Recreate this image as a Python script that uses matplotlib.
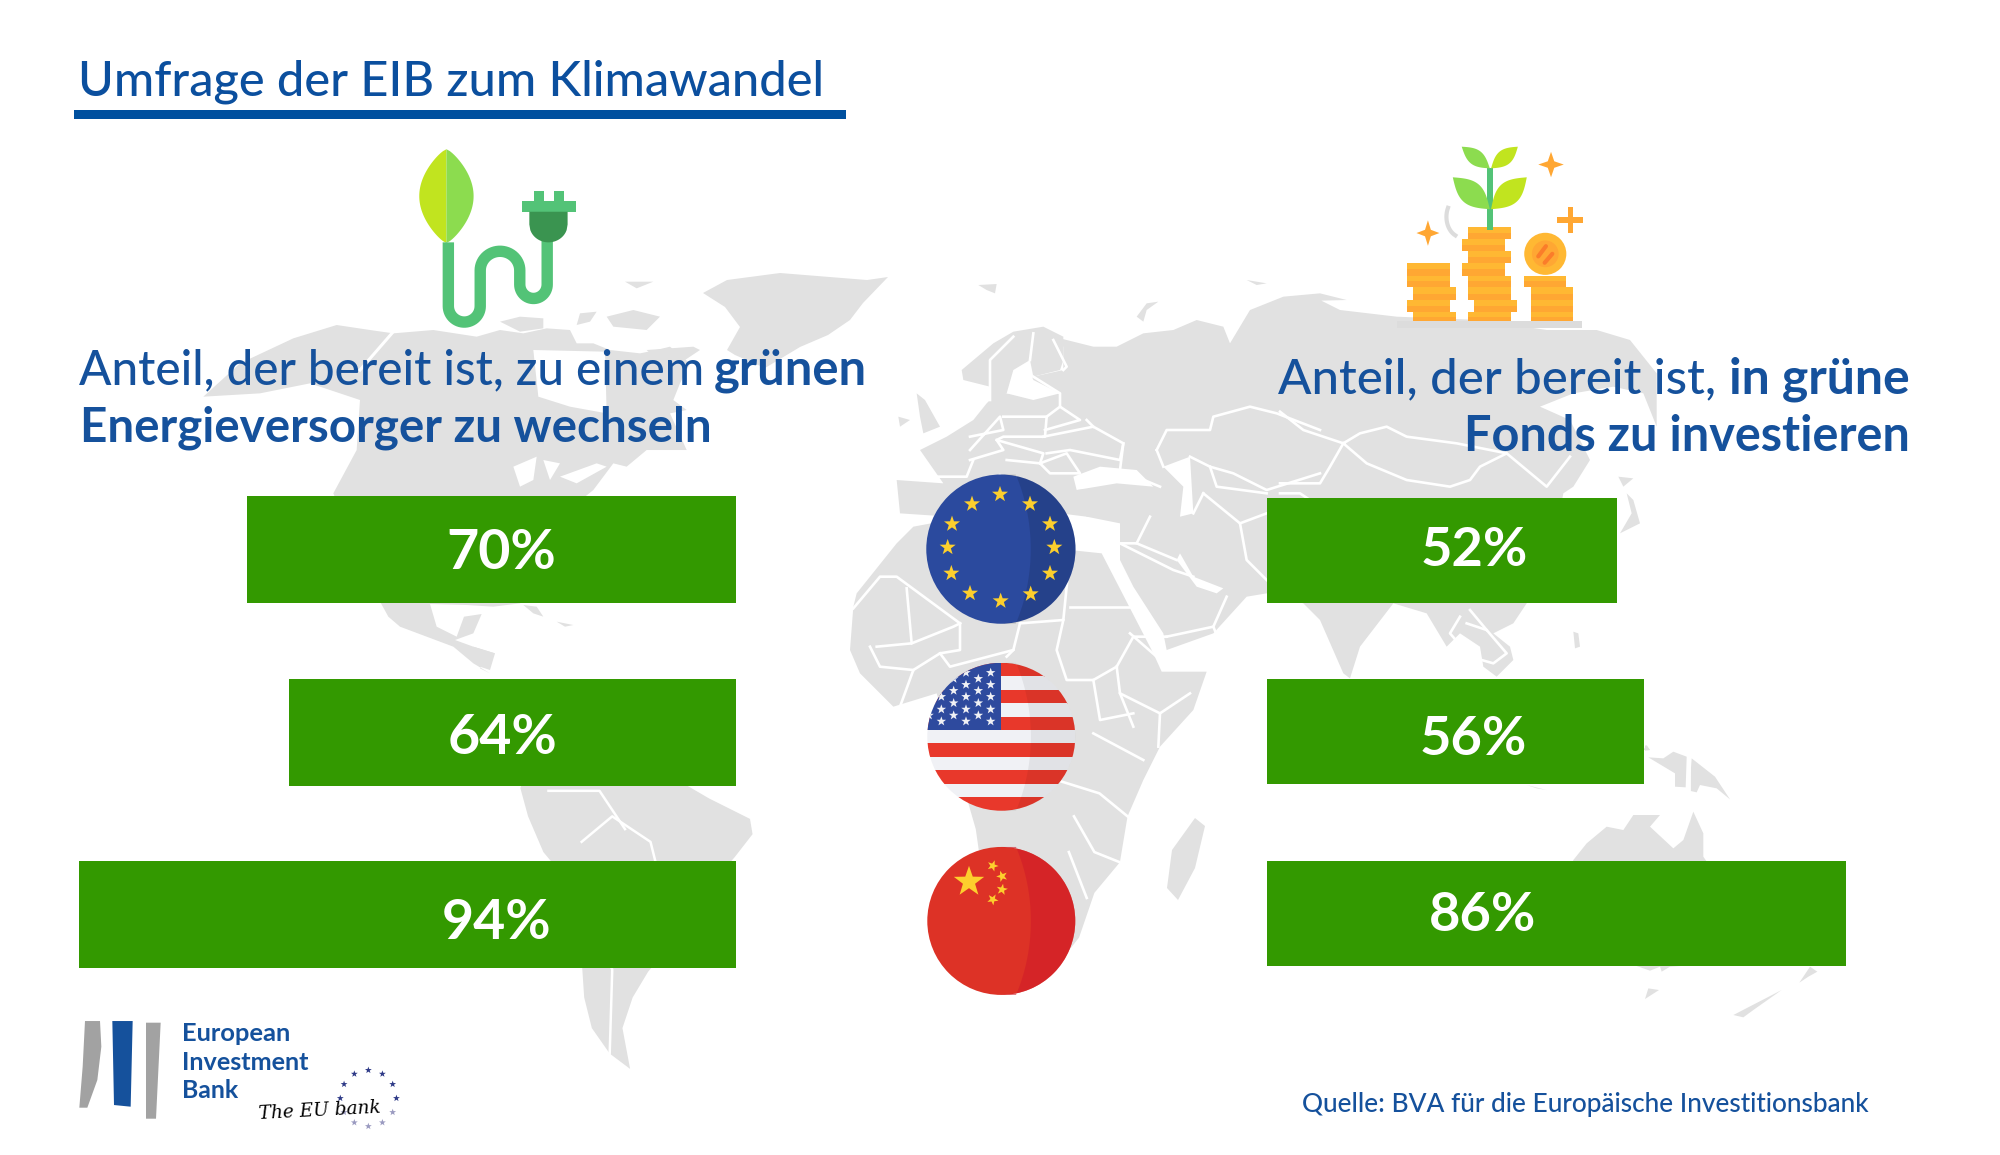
import numpy as np
import matplotlib
matplotlib.use("Agg")
import matplotlib.pyplot as plt
from matplotlib.patches import Circle, Polygon, Rectangle

# ---------- data ----------
regions = ["EU", "USA", "China"]
energy_share = [70, 64, 94]
fund_share = [52, 56, 86]

title = "Umfrage der EIB zum Klimawandel"
source = "Quelle: BVA für die Europäische Investitionsbank"

GREEN = "#339900"
BLUE = "#15519c"
TITLE_BLUE = "#0b4f9e"
LAND = "#e1e1e1"
FONT = "Lato"

W, H = 1568.0, 905.5   # layout units
K = 2000.0 / W

fig = plt.figure(figsize=(20, 11.55), dpi=100, facecolor="white")
bg = fig.add_axes([0, 0, 1, 1], zorder=1)
bg.set_xlim(0, W); bg.set_ylim(H, 0); bg.axis("off")
fg = fig.add_axes([0, 0, 1, 1], zorder=5)
fg.set_xlim(0, W); fg.set_ylim(H, 0); fg.axis("off"); fg.patch.set_alpha(0)


def fit(t, width):
    r = fig.canvas.get_renderer()
    e = t.get_window_extent(r).width
    t.set_fontsize(t.get_fontsize() * width * K / e)
    return t


def label(x, y, s, width, weight=500, color=BLUE, ha="left", va="baseline", **kw):
    t = fg.text(x, y, s, family=FONT, fontsize=30, fontweight=weight, color=color,
                ha=ha, va=va, **kw)
    return fit(t, width)


def crop(x0, y0):
    return lambda pts: [((x0 + x / 3) / K, (y0 + y / 3) / K) for x, y in pts]


A, B, C, D = crop(260, 250), crop(800, 260), crop(1280, 280), crop(1400, 700)


def O(pts):
    return [(x / K, y / K) for x, y in pts]


def land(p, z=1):
    bg.add_patch(Polygon(p, closed=True, fc=LAND, ec="none", zorder=z))


def sea(p):
    bg.add_patch(Polygon(p, closed=True, fc="white", ec="none", zorder=2))


def line(p, lw=2.0, z=3):
    xs, ys = zip(*p)
    bg.plot(xs, ys, color="white", lw=lw, solid_joinstyle="round", zorder=z)


# North America
land(A([(-170, 440), (-60, 340), (100, 265), (230, 225), (330, 240), (400, 250), (520, 240), (650, 260), (720, 240),
        (790, 250), (860, 235), (930, 240), (950, 280), (1000, 280), (1050, 300), (1140, 310), (1190, 300),
        (1230, 290), (1290, 340), (1260, 400), (1240, 450), (1280, 480), (1230, 490), (1280, 600), (1160, 600),
        (1100, 650), (1060, 640), (1000, 720), (900, 800), (860, 1000), (780, 1060), (700, 1070), (620, 1065),
        (510, 1062), (530, 1130), (590, 1160), (612, 1100), (665, 1092), (640, 1150), (585, 1170), (640, 1190), (705, 1210),
        (660, 1255), (690, 1270), (640, 1240), (580, 1190), (500, 1160), (420, 1130), (385, 1100), (330, 1000),
        (220, 730), (290, 600), (300, 450), (150, 400), (0, 430)]))
sea(A([(820, 300), (1035, 305), (1040, 490), (930, 470), (835, 440)]))
land(A([(720, 215), (780, 200), (850, 205), (850, 235), (780, 245)]))
land(A([(1040, 200), (1120, 180), (1200, 200), (1160, 240), (1060, 230)]))
land(A([(1095, 95), (1180, 95), (1130, 115)]))
land(A([(960, 190), (1010, 185), (990, 215), (950, 225)]))
land(A([(1160, 300), (1300, 290), (1320, 300), (1260, 340), (1200, 340)]))
for lake in ([(760, 650), (830, 620), (820, 690), (780, 710)], [(850, 630), (900, 640), (870, 690)],
             [(900, 680), (1010, 640), (1040, 650), (950, 700)]):
    sea(A(lake))
line(A([(300, 360), (400, 245)]), lw=2.2)
land(A([(790, 1065), (830, 1070), (850, 1100), (820, 1090)]))
land(A([(890, 1115), (940, 1125), (915, 1130)]))
land(A([(640, 1190), (705, 1210), (690, 1260), (660, 1250)]))

# Greenland
land(O([(703, 293), (727, 280), (780, 273), (867, 280), (888, 277), (863, 303), (850, 320), (828, 335), (800, 347),
        (765, 368), (735, 355), (727, 350), (740, 327), (725, 307)]))
land(B([(535, 75), (590, 72), (585, 100), (560, 90)]))
land(B([(1340, 60), (1400, 70), (1370, 75)]))
land(B([(1010, 170), (1040, 130), (1075, 125), (1040, 150), (1030, 185)]))

# South America
land([(412, 604), (430, 592), (452, 588), (474, 590), (494, 598), (510, 608), (532, 612), (556, 626), (588, 642), (590, 654),
      (576, 672), (562, 688), (556, 712), (540, 722), (524, 742), (508, 762), (496, 782), (488, 806), (494, 838), (478, 826),
      (464, 806), (458, 782), (456, 752), (454, 722), (446, 692), (426, 668), (414, 640), (408, 618)])
for b in ([(456, 660), (480, 640), (510, 660), (520, 700), (500, 722)], [(430, 620), (470, 620), (490, 650)],
          [(470, 690), (500, 700)], [(458, 720), (480, 760), (478, 826)]):
    line(b, lw=1.8)

# Europe + Asia mainland
land(B([(290, 660), (430, 670), (360, 570), (440, 530), (520, 480), (560, 430), (590, 400), (640, 400), (700, 350),
        (790, 330), (790, 260), (760, 230), (880, 260), (950, 260), (1030, 220), (1120, 210), (1190, 180), (1270, 200),
        (1290, 250), (1350, 150), (1450, 110), (1560, 100), (1640, 120)]) +
     C([(0, 65), (100, 50), (180, 90), (350, 110), (600, 120), (800, 150), (950, 150), (1050, 180), (1130, 280), (1130, 440),
        (1090, 340), (1000, 320), (880, 340), (780, 380), (870, 420), (930, 540), (880, 620), (850, 640), (840, 690),
        (800, 780), (780, 900), (740, 970), (700, 1030), (640, 1060), (690, 1100), (700, 1140), (650, 1190), (610, 1160),
        (600, 1100), (540, 1060), (500, 1100), (440, 1000), (340, 970), (240, 1100), (210, 1195), (190, 1180),
        (120, 1020), (70, 970)]) +
     B([(1400, 1000), (1340, 1010), (1240, 1120), (1100, 1170), (1090, 1120), (1000, 980), (960, 900), (960, 790),
        (860, 770), (700, 750), (600, 640), (450, 770), (300, 760)]))
# Scandinavia, UK, Ireland, Iceland
land(B([(490, 360), (485, 330), (580, 250), (640, 215), (730, 200), (790, 230), (790, 300), (780, 330), (700, 350), (690, 300),
        (640, 330), (620, 400), (570, 420), (570, 380)]))
land(B([(350, 400), (375, 420), (420, 500), (370, 520), (360, 470)]))
land(B([(295, 470), (330, 480), (300, 500)]))
# Inner seas
sea(B([(820, 650), (900, 620), (1010, 630), (1060, 680), (950, 670), (830, 690)]))
sea(B([(1090, 620), (1170, 590), (1180, 760), (1140, 770), (1150, 680)]))
sea(B([(620, 400), (680, 310), (700, 360), (780, 400), (700, 420)]))
land(B([(820, 720), (830, 690), (950, 680), (1060, 690), (1070, 740), (960, 770), (860, 770)]), z=3)
sea(B([(1140, 880), (1180, 950), (1270, 985), (1250, 1000), (1190, 980), (1130, 900)]))
sea(B([(640, 770), (830, 775), (900, 820), (830, 870), (500, 790)]))

# Africa
land(B([(160, 1040), (170, 1000), (210, 950), (290, 850), (340, 800), (500, 770), (810, 870), (905, 880), (1060, 1180), (1085, 1235),
        (1220, 1235), (1180, 1350), (1080, 1460), (1030, 1560)]) +
     [(884, 640), (878, 676), (858, 700), (846, 735), (820, 768), (790, 770), (775, 720), (765, 650)] +
     B([(410, 1300), (280, 1340), (180, 1240), (150, 1170)]))
land(O([(1195, 818), (1205, 826), (1195, 868), (1178, 900), (1167, 888), (1172, 850)]))

# Japan, islands, SE Asia
land(C([(1015, 590), (1060, 595), (1030, 620)]))
land(C([(1040, 640), (1060, 660), (1080, 730), (1020, 760), (1055, 700)]))
land(C([(880, 1055), (895, 1060), (900, 1100), (885, 1105)]))
land(C([(1100, 1395), (1110, 1410), (1090, 1410)]))
land(D([(735, 135), (750, 150), (735, 152)]))

# Australia and neighbours
land(D([(520, 480), (560, 430), (620, 380), (670, 390), (700, 345), (780, 345), (750, 380), (820, 445), (850, 420),
        (880, 335), (910, 400), (910, 470), (1000, 600), (960, 790), (810, 800), (785, 815), (780, 800), (750, 812), (710, 798),
        (600, 780), (500, 790), (480, 600)]))
land(D([(735, 897), (745, 865), (777, 870)]))
land(D([(1000, 945), (1145, 870), (1060, 930), (1030, 952)]))
land(D([(1198, 848), (1230, 800), (1252, 815), (1225, 830)]))
land(D([(745, 172), (790, 175), (820, 155), (860, 170), (857, 262), (825, 260), (825, 220)]))
land(D([(875, 175), (945, 230), (990, 298), (950, 265), (900, 255), (890, 277), (868, 272)]))
land(D([(380, 255), (440, 270), (410, 265)]))

# Borders: Europe and Western Asia
for b in [
    [(390, 650), (500, 650), (520, 600)], [(510, 570), (600, 470), (610, 510), (510, 530)],
    [(610, 470), (740, 470), (735, 530), (610, 530), (590, 540), (610, 570), (510, 600)],
    [(740, 470), (780, 440), (840, 480), (735, 510)], [(590, 540), (730, 580), (720, 610), (620, 600)],
    [(730, 530), (830, 510), (880, 500), (970, 550), (960, 600), (810, 570), (740, 580)],
    [(720, 610), (800, 580), (840, 640), (750, 640), (720, 610)], [(700, 350), (780, 400), (780, 440)],
    [(860, 480), (880, 500)],
    [(790, 330), (800, 320), (760, 240)], [(570, 420), (570, 300), (640, 230)], [(690, 300), (700, 220)],
    [(970, 550), (960, 630), (1080, 680)],
    [(1070, 570), (1100, 510), (1230, 510), (1240, 470), (1350, 440), (1430, 460), (1560, 510)],
    [(1070, 570), (1090, 620)], [(1170, 590), (1230, 620), (1300, 640), (1400, 690), (1560, 640)],
    [(1230, 620), (1250, 680), (1400, 700)],
    [(1210, 700), (1320, 790), (1340, 900), (1400, 960)], [(1320, 790), (1400, 760)], [(1210, 700), (1180, 760)],
    [(960, 850), (1010, 850), (1050, 770)], [(1010, 850), (1130, 900)], [(960, 850), (1120, 930), (1180, 950)],
    [(1100, 1130), (1240, 1100), (1280, 1010)], [(1240, 1100), (1250, 1125)],
    # Africa
    [(160, 1045), (240, 950), (290, 950), (480, 1090)], [(320, 985), (335, 1150), (230, 1160)], [(335, 1150), (460, 1100), (480, 1090)],
    [(480, 1090), (480, 1170), (420, 1180), (340, 1230), (300, 1340)], [(210, 1160), (240, 1220), (340, 1230)],
    [(420, 1180), (450, 1220), (640, 1170), (660, 1090)], [(640, 1170), (620, 1190)], [(660, 1090), (790, 1080), (810, 880)],
    [(810, 1040), (990, 1040)], [(790, 1080), (770, 1170), (800, 1260), (880, 1260), (950, 1220)],
    [(950, 1220), (1000, 1130), (1100, 1130)], [(950, 1220), (960, 1300), (1080, 1360), (1170, 1300)], [(1080, 1360), (1075, 1460)],
    [(960, 1300), (1000, 1400)], [(880, 1260), (900, 1380), (1000, 1360)], [(990, 1120), (1070, 1190)], [(880, 1420), (1030, 1500)],
]:
    line(B(b), lw=1.9)
for b in [
    [(0, 395), (70, 450), (190, 490), (240, 460), (320, 440), (380, 470), (530, 490), (680, 520), (600, 560), (570, 600), (510, 620),
     (380, 600), (260, 550), (190, 490)],
    [(190, 490), (150, 560), (120, 610), (0, 610)], [(0, 640), (60, 640), (90, 660)],
    [(680, 520), (800, 620), (870, 530)],
    [(540, 1010), (510, 1060), (570, 1130), (640, 1150), (680, 1120), (620, 1050), (560, 1030)], [(570, 990), (620, 1050)],
]:
    line(C(b), lw=1.9)
line(D([(866, 170), (866, 275)]), lw=2.0)
# Southern Africa borders
for b in [[(830, 612), (862, 622), (884, 640)], [(842, 640), (858, 668), (878, 676)], [(838, 668), (852, 704)]]:
    line(b, lw=1.9)


# ---------- bars (driven by the data) ----------
def bar_axes(left, top, width, spacing, xlim):
    ax = fig.add_axes([left / 2000, 1 - (top + 3 * spacing) / 1155, width / 2000, 3 * spacing / 1155], zorder=3)
    ax.set_xlim(*xlim); ax.set_ylim(2.5, -0.5); ax.axis("off"); ax.patch.set_alpha(0)
    return ax


ypos = np.arange(len(regions))
ax_l = bar_axes(79, 458.25, 657, 182.5, (94, 0))
ax_l.barh(ypos, energy_share, height=107 / 182.5, color=GREEN)
ax_r = bar_axes(1267, 459.25, 579, 181.5, (0, 86))
ax_r.barh(ypos, fund_share, height=105 / 181.5, color=GREEN)

for v, x, y in zip(energy_share, [393, 394, 389], [433.5, 578.5, 723.5]):
    label(x, y, f"{v}%", 86, weight="bold", color="white", ha="center", va="center")
for v, x, y in zip(fund_share, [1156, 1155, 1162], [431.5, 579.5, 717.5]):
    label(x, y, f"{v}%", 84, weight="bold", color="white", ha="center", va="center")

# ---------- titles ----------
label(61, 75, title, 585, color=TITLE_BLUE)
fg.add_patch(Rectangle((58, 86), 605, 7, fc="#00509f", ec="none"))
label(62, 301.5, "Anteil, der bereit ist, zu einem", 490)
label(680, 301.5, "grünen", 120, weight="bold", ha="right")
label(63, 346, "Energieversorger zu wechseln", 495, weight="bold")
label(1002, 308.5, "Anteil, der bereit ist,", 343)
label(1497, 308.5, "in grüne", 142, weight="bold", ha="right")
label(1497, 353.5, "Fonds zu investieren", 350, weight="bold", ha="right")
label(1021, 872, source, 444)


# ---------- helpers for icons ----------
def star(cx, cy, R, color, rot=0.0, clip=None, z=6):
    a = np.deg2rad(rot) + np.arange(10) * np.pi / 5 - np.pi / 2
    r = np.where(np.arange(10) % 2 == 0, R, R * 0.4)
    p = Polygon(np.c_[cx + r * np.cos(a), cy + r * np.sin(a)], fc=color, ec="none", zorder=z)
    fg.add_patch(p)
    if clip is not None:
        p.set_clip_path(clip)
    return p


def crescent(cx, cy, r, color="black", alpha=0.08):
    ys = np.linspace(cy - r, cy + r, 80)
    xr = cx + np.sqrt(np.maximum(r ** 2 - (ys - cy) ** 2, 0))
    xl = cx - 1.6 * r + 2 * r * np.sqrt(1 - ((ys - cy) / (2.29 * r)) ** 2)
    pts = np.r_[np.c_[xl, ys], np.c_[xr, ys][::-1]]
    fg.add_patch(Polygon(pts, fc=color, ec="none", alpha=alpha, zorder=7))


# EU
cx, cy, r = 784.7, 430.5, 58.5
fg.add_patch(Circle((cx, cy), r, fc="#2b4a9e", ec="none", zorder=5))
crescent(cx, cy, r, alpha=0.12)
for x_, y_ in [(600, 703), (516, 732), (690, 732), (456, 792), (750, 792), (443, 862), (763, 862),
               (454, 940), (750, 940), (510, 1000), (692, 1002), (602, 1023)]:
    star((800 + x_ / 3) / K, (260 + y_ / 3) / K, 6.6, "#fdcf2d", z=8)

# USA
cx, cy, r = 785, 577.6, 58
clip = Circle((cx, cy), r, transform=fg.transData)
for i in range(11):
    s = Rectangle((cx - r, cy - r + i * 2 * r / 11), 2 * r, 2 * r / 11 + .3,
                  fc="#e8382b" if i % 2 == 0 else "#f0f1f5", ec="none", zorder=5)
    fg.add_patch(s); s.set_clip_path(clip)
can = Rectangle((cx - r, cy - r), r, 53, fc="#2e4a9e", ec="none", zorder=6)
fg.add_patch(can); can.set_clip_path(clip)
for i, zx_ in enumerate([572, 535, 498, 461, 424, 387]):
    for j, zy_ in enumerate([1238, 1256, 1274, 1292, 1310, 1329, 1348, 1366, 1384]):
        if (i + j) % 2 == 0:
            star((800 + zx_ / 3) / K, (260 + zy_ / 3) / K, 3.9, "#f0f1f5", clip=clip, z=7)
crescent(cx, cy, r, alpha=0.06)

# China
cx, cy, r = 785, 722, 58
fg.add_patch(Circle((cx, cy), r, fc="#dd3226", ec="none", zorder=5))
crescent(cx, cy, r, color="#d01c28", alpha=0.6)
star(759.7, 691.3, 12.5, "#fdcf2d", z=8)
for x, y, rot in [(778.3, 678.8, 20), (785.6, 687, -20), (785.6, 697.4, 10), (778.3, 705.2, 30)]:
    star(x, y, 4.6, "#fdcf2d", rot=rot, z=8)

# ---------- plug icon ----------
t = np.linspace(0, np.pi, 30)
leaf_y = np.linspace(117, 190.5, 50)
leaf_w = 21.3 * np.sin(np.pi * ((leaf_y - 117) / 73.5)) ** 0.75
fg.add_patch(Polygon(np.r_[np.c_[350 - leaf_w, leaf_y], [[350, 190.5], [350, 117]]], fc="#c1e41f", ec="none"))
fg.add_patch(Polygon(np.r_[np.c_[350 + leaf_w, leaf_y], [[350, 190.5], [350, 117]]], fc="#8cdc4f", ec="none"))
cord = [(351.5, 190), (351.5, 240)]
cord += [(364 - 12.5 * np.cos(a), 240 + 12.5 * np.sin(a)) for a in t]
cord += [(376.5, 212)]
cord += [(392 - 15.5 * np.cos(a), 212 - 15 * np.sin(a)) for a in t]
cord += [(407.5, 223)]
cord += [(418.25 - 10.75 * np.cos(a), 223 + 11 * np.sin(a)) for a in t]
cord += [(429, 185)]
cx_, cy_ = zip(*cord)
fg.plot(cx_, cy_, color="#53c377", lw=8.2, solid_capstyle="butt", solid_joinstyle="round", zorder=6)
fg.add_patch(Rectangle((419, 150), 7.5, 8, fc="#53c377", ec="none"))
fg.add_patch(Rectangle((434, 150), 8.5, 8, fc="#53c377", ec="none"))
fg.add_patch(Rectangle((409, 157.5), 42.5, 8.5, fc="#53c377", ec="none"))
bx = np.linspace(-15, 15, 40)
fg.add_patch(Polygon(np.r_[[[415, 166], [445, 166]], np.c_[430 - bx, 176 + 14 * np.sqrt(1 - (bx / 15) ** 2)]],
                     fc="#3a9450", ec="none", zorder=7))

# ---------- coin icon ----------
fg.add_patch(Rectangle((1095.5, 252), 145, 5, fc="#dcdcdc", ec="none"))
cy_rows = [428, 460, 491, 524, 555, 580]
left = [(638, 705), (638, 705), (648, 715), (638, 705), (648, 715)]
mid_rows = [332, 364, 395, 428, 460, 491, 524, 555, 580]
mid = [(734, 802), (724, 792), (734, 802), (724, 792), (734, 802), (734, 802), (744, 811), (734, 802)]
right = [(822, 888), (832, 898), (832, 898), (832, 898)]
right_rows = [460, 491, 524, 555, 580]


def coins(rows, spans):
    for (a, b), (x0, x1) in zip(zip(rows[:-1], rows[1:]), spans):
        X0, X1 = 784 + x0 / 2, 784 + x1 / 2
        Y0, Y1 = 78 + a / 3.333, 78 + b / 3.333
        fg.add_patch(Rectangle((X0, Y0), X1 - X0, (Y1 - Y0) / 2 + .2, fc="#ffb833", ec="none"))
        fg.add_patch(Rectangle((X0, (Y0 + Y1) / 2), X1 - X0, (Y1 - Y0) / 2, fc="#ffa733", ec="none"))


coins(cy_rows, left); coins(mid_rows, mid); coins(right_rows, right)
fg.add_patch(Circle((1211.5, 199), 16.5, fc="#ffb833", ec="none"))
fg.add_patch(Circle((1211.5, 199), 10.5, fc="#ffa733", ec="none"))
fg.plot([1206, 1212], [201, 193], color="#fb7d2a", lw=3, solid_capstyle="round", zorder=7)
fg.plot([1211, 1217], [206, 199], color="#fb7d2a", lw=3, solid_capstyle="round", zorder=7)
fg.add_patch(Rectangle((1166, 132), 4.4, 48, fc="#53c377", ec="none"))


def leaf(x0, y0, x1, y1, bulge, color):
    s = np.linspace(0, 1, 30)
    dx, dy = x1 - x0, y1 - y0
    n = np.array([-dy, dx]) / np.hypot(dx, dy)
    w = np.sin(np.pi * s) * bulge
    a = np.c_[x0 + dx * s + n[0] * w, y0 + dy * s + n[1] * w]
    b = np.c_[x0 + dx * s - n[0] * w, y0 + dy * s - n[1] * w]
    fg.add_patch(Polygon(np.r_[a, b[::-1]], fc=color, ec="none", zorder=7))


leaf(1146, 115, 1168, 132, 6, "#8cdc4f")
leaf(1190, 115, 1169, 132, 6, "#c1e41f")
leaf(1139, 139, 1168, 164, 9, "#8cdc4f")
leaf(1197, 139, 1169, 164, 9, "#c1e41f")


def sparkle(x, y, rx, ry):
    a = np.arange(8) * np.pi / 4
    rad = np.where(np.arange(8) % 2 == 0, 1.0, 0.36)
    fg.add_patch(Polygon(np.c_[x + rx * rad * np.sin(a), y + ry * rad * np.cos(a)], fc="#ffa733", ec="none"))


sparkle(1216, 129, 10, 10)
sparkle(1119.5, 182.7, 9, 10)
fg.add_patch(Rectangle((1221, 170.5), 20, 4, fc="#ffa733", ec="none"))
fg.add_patch(Rectangle((1229, 162.5), 4, 20, fc="#ffa733", ec="none"))
arc = np.linspace(2.0, 3.6, 20)
fg.plot(1146 + 12 * np.cos(arc), 170 + 16 * np.sin(arc), color="#dcdcdc", lw=3)


# ---------- EIB logo ----------
def zx(z): return z / 3 / K
def zy(z): return (980 + z / 3) / K


fg.add_patch(Polygon([(zx(255), zy(123)), (zx(300), zy(123)), (zx(304), zy(200)), (zx(292), zy(300)), (zx(262), zy(383)),
                      (zx(238), zy(383)), (zx(248), zy(260))], fc="#a2a2a2", ec="none"))
fg.add_patch(Polygon([(zx(337), zy(123)), (zx(398), zy(123)), (zx(392), zy(380)), (zx(342), zy(375))], fc="#15519c", ec="none"))
fg.add_patch(Polygon([(zx(438), zy(128)), (zx(482), zy(128)), (zx(468), zy(416)), (zx(438), zy(416))], fc="#a2a2a2", ec="none"))
label(143, 816, "European", 85, weight="bold")
label(143, 838.5, "Investment", 100, weight="bold")
label(143, 861, "Bank", 44, weight="bold")
t_ = fg.text(203, 877, "The EU bank", family="DejaVu Serif", style="italic", fontsize=12, color="black", rotation=3,
             rotation_mode="anchor", zorder=9)
fit(t_, 96)
for i in range(12):
    a = 2 * np.pi * i / 12
    sx, sy = 288.8 + 22 * np.sin(a), 861 - 22 * np.cos(a)
    dark = sy < 866
    star(sx, sy, 2.8, "#2e3a87" if dark else "#9a9ac0")

fig.savefig("out.png", dpi=100, facecolor="white")
